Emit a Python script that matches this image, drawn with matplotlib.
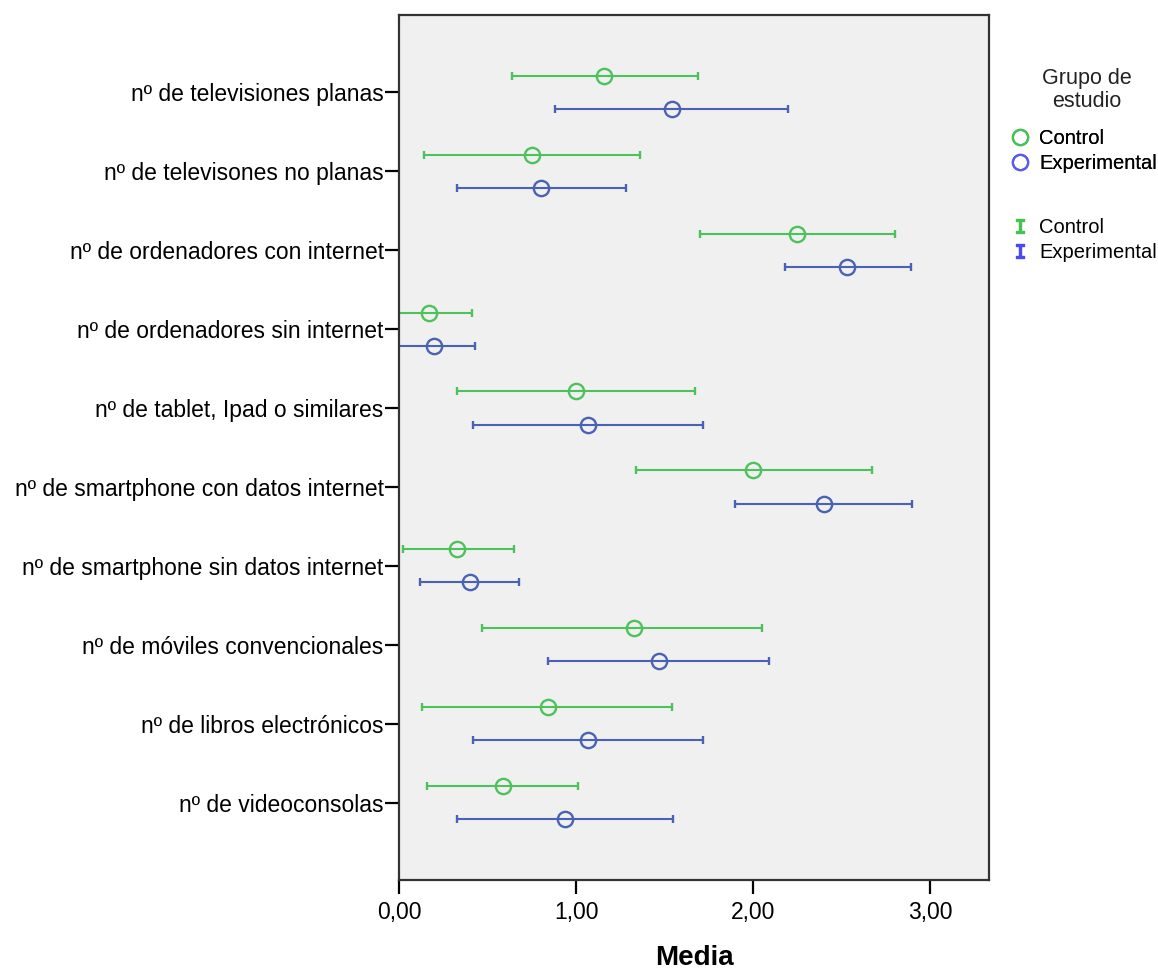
import numpy as np
import matplotlib.pyplot as plt
from matplotlib.lines import Line2D
from matplotlib.ticker import FuncFormatter

plt.rcParams["font.family"] = ["Liberation Sans", "DejaVu Sans"]

categories = [
    "nº de televisiones planas",
    "nº de televisones no planas",
    "nº de ordenadores con internet",
    "nº de ordenadores sin internet",
    "nº de tablet, Ipad o similares",
    "nº de smartphone con datos internet",
    "nº de smartphone sin datos internet",
    "nº de móviles convencionales",
    "nº de libros electrónicos",
    "nº de videoconsolas",
]

# means and 95% CI bounds
control_mean = [1.16, 0.75, 2.25, 0.17, 1.00, 2.00, 0.33, 1.33, 0.84, 0.59]
control_low = [0.64, 0.14, 1.70, -0.08, 0.33, 1.34, 0.02, 0.47, 0.13, 0.16]
control_high = [1.69, 1.36, 2.80, 0.41, 1.67, 2.67, 0.65, 2.05, 1.54, 1.01]

exper_mean = [1.54, 0.80, 2.53, 0.20, 1.07, 2.40, 0.40, 1.47, 1.07, 0.94]
exper_low = [0.88, 0.33, 2.18, -0.04, 0.42, 1.90, 0.12, 0.84, 0.42, 0.33]
exper_high = [2.20, 1.28, 2.89, 0.43, 1.72, 2.90, 0.68, 2.09, 1.72, 1.55]

green = "#4cc35a"
blue = "#4a62b5"

y = np.arange(len(categories))
off = 0.21

fig = plt.figure(figsize=(11.58, 9.72), dpi=100)
ax = fig.add_axes([399 / 1158, 1 - 880 / 972, 590 / 1158, 865 / 972])
ax.set_facecolor("#f0f0f0")

cm = np.array(control_mean)
em = np.array(exper_mean)
ax.errorbar(cm, y - off,
            xerr=[cm - np.array(control_low), np.array(control_high) - cm],
            fmt="o", color=green, mfc="none", mec=green, ms=11, mew=1.7,
            elinewidth=1.5, capsize=3, capthick=1.5)
ax.errorbar(em, y + off,
            xerr=[em - np.array(exper_low), np.array(exper_high) - em],
            fmt="o", color=blue, mfc="none", mec=blue, ms=11, mew=1.7,
            elinewidth=1.5, capsize=3, capthick=1.5)

ax.set_xlim(0, 3.333)
ax.set_ylim(9.98, -0.98)
ax.set_yticks(y)
ax.set_yticklabels(categories, fontsize=16.5)
ax.set_xticks([0, 1, 2, 3])
ax.xaxis.set_major_formatter(FuncFormatter(lambda v, p: f"{v:.2f}".replace(".", ",")))
ax.tick_params(axis="x", labelsize=16.5, length=10, width=1.6, pad=5)
ax.tick_params(axis="y", length=10, width=1.6, pad=1)
for s in ax.spines.values():
    s.set_linewidth(1.6)
    s.set_color("#333333")

fig.text(694 / 1158, 1 - 958 / 972, "Media", ha="center", va="center",
         fontsize=20, fontweight="bold")

fig.text(1087 / 1158, 1 - 90 / 972, "Grupo de\nestudio", ha="center", va="center",
         multialignment="center", fontsize=15.5, linespacing=1.1, color="#222222")

circle_handles = [
    Line2D([], [], marker="o", ls="none", mfc="none", mec="#44c254", ms=11, mew=1.6),
    Line2D([], [], marker="o", ls="none", mfc="none", mec="#5a5af0", ms=11, mew=1.6),
]
leg1 = fig.legend(circle_handles, ["Control", "Experimental"],
                  loc="upper left", bbox_to_anchor=(1010 / 1158, 1 - 129 / 972),
                  frameon=False, fontsize=14.5, handlelength=1.0, handletextpad=0.45,
                  labelspacing=0.3, borderaxespad=0, borderpad=0)
fig.add_artist(leg1)
bar_handles = [
    Line2D([], [], marker="$\\mathtt{I}$", ls="none", color="#44c254", ms=10),
    Line2D([], [], marker="$\\mathtt{I}$", ls="none", color="#4a4af0", ms=10),
]
fig.legend(bar_handles, ["Control", "Experimental"],
           loc="upper left", bbox_to_anchor=(1010 / 1158, 1 - 218 / 972),
           frameon=False, fontsize=14.5, handlelength=1.0, handletextpad=0.45,
           labelspacing=0.3, borderaxespad=0, borderpad=0)

fig.savefig("out.png", dpi=100, facecolor="white")
